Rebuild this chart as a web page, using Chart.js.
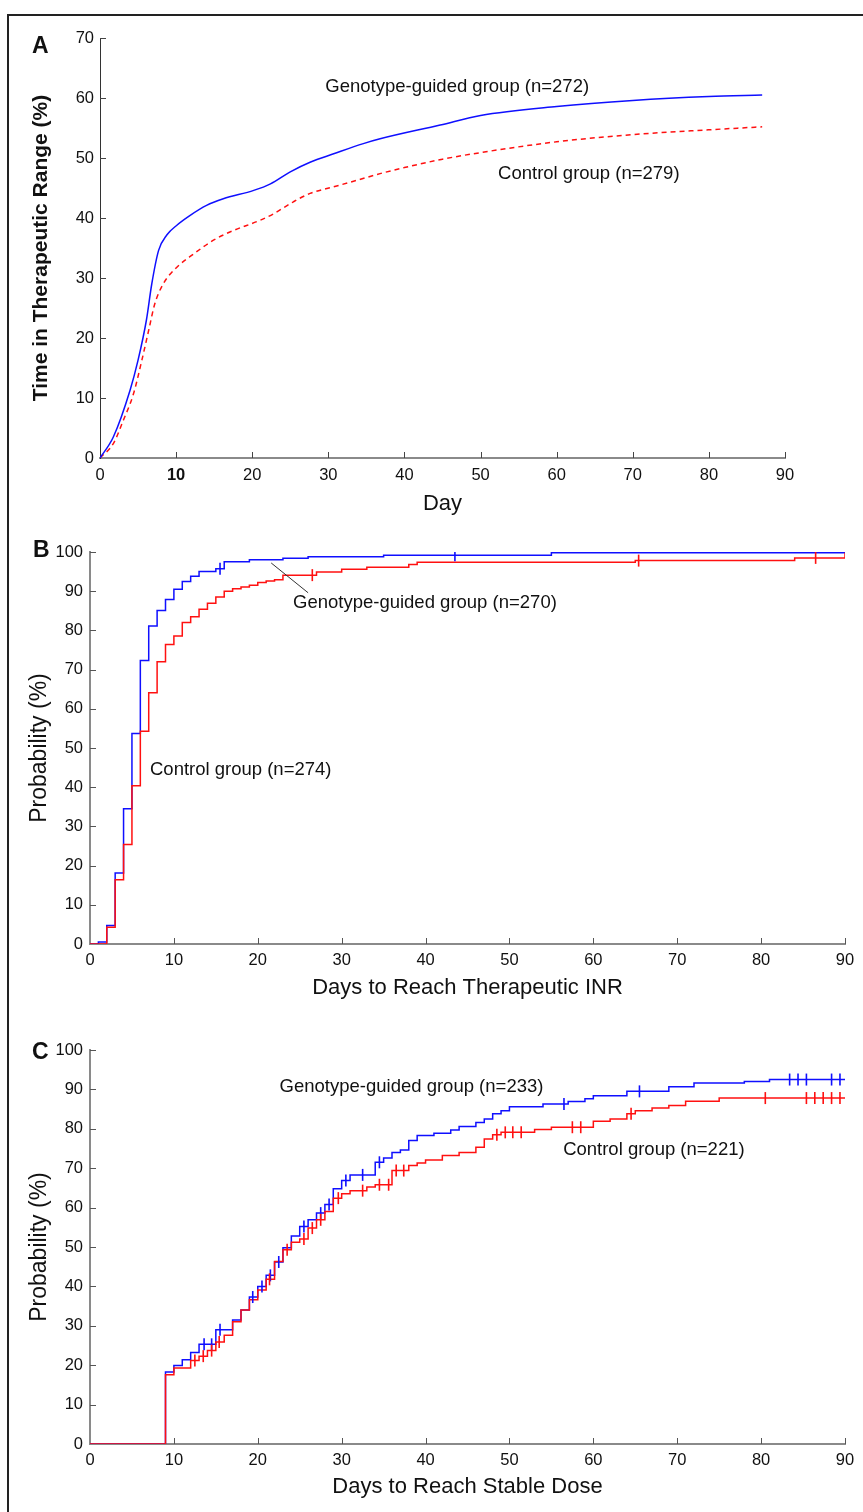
<!DOCTYPE html>
<html>
<head>
<meta charset="utf-8">
<script src="https://cdn.jsdelivr.net/npm/chart.js@4.4.1/dist/chart.umd.min.js"></script>
<style>
  body { margin: 0; background: #fff; width: 863px; height: 1512px; overflow: hidden; position: relative; font-family: 'Liberation Sans', Arial, sans-serif; }
  .frame { position: absolute; left: 7px; top: 14px; width: 900px; height: 1600px; border-left: 2px solid #222; border-top: 2px solid #222; }
  canvas { position: absolute; left: 0; }
  .panel { position: absolute; font-weight: bold; font-size: 23px; line-height: 23px; color: #111; }
</style>
</head>
<body>
<div class="frame"></div>
<canvas id="chartA" width="863" height="510" style="top:20px"></canvas>
<canvas id="chartB" width="863" height="480" style="top:530px"></canvas>
<canvas id="chartC" width="863" height="502" style="top:1010px"></canvas>
<div class="panel" style="left:32px;top:34px">A</div>
<div class="panel" style="left:33px;top:538px">B</div>
<div class="panel" style="left:32px;top:1040px">C</div>
<script>
// Panel A - time in therapeutic range (%) by day
const dayA_geno = [0, 1.75, 3.95, 5, 6.1, 6.8, 7.7, 8.8, 10.1, 11.8, 14, 16.2, 20.2, 22.4, 25, 27.6, 30.7, 34.6, 36.8, 44.7, 50, 60, 70, 80, 87];
const ttr_geno  = [0, 3.5, 11.3, 16.3, 23, 29, 34.6, 37.2, 38.8, 40.4, 42.1, 43.2, 44.6, 45.7, 47.7, 49.3, 50.7, 52.4, 53.2, 55.5, 57.1, 58.6, 59.6, 60.25, 60.5];
const dayA_ctrl = [0, 1.75, 3.07, 4.4, 5.5, 6.4, 7.2, 8.3, 10.1, 12.3, 14.9, 17.5, 21, 22.8, 25.4, 27.6, 30.7, 33.8, 36.8, 40, 45, 50, 60, 70, 80, 87];
const ttr_ctrl  = [0, 2.4, 6.3, 10.7, 16.3, 21.3, 25.7, 29, 31.8, 34, 36.3, 37.9, 39.6, 40.7, 42.7, 44.1, 45.2, 46.3, 47.4, 48.4, 49.8, 50.9, 52.7, 53.9, 54.7, 55.2];

// Panel B - days to reach therapeutic INR (cumulative probability %)
const dayB_geno  = [0, 1, 2, 3, 4, 5, 6, 7, 8, 9, 10, 11, 12, 13, 15, 16, 19, 23, 26, 35, 55, 90];
const probB_geno = [0, 0.5, 4.7, 18.1, 34.5, 53.7, 72.3, 81.1, 85.1, 87.9, 90.5, 92.5, 93.8, 95.0, 95.7, 97.5, 98.0, 98.4, 98.8, 99.2, 99.8, 99.8];
const dayB_ctrl  = [0, 2, 3, 4, 5, 6, 7, 8, 9, 10, 11, 12, 13, 14, 15, 16, 17, 18, 19, 20, 21, 22, 23, 27, 30, 33, 38, 39, 65, 84, 90];
const probB_ctrl = [0, 4.3, 16.4, 25.4, 40.4, 54.3, 64.1, 72.0, 76.4, 78.6, 82.0, 83.5, 85.4, 86.9, 88.5, 90.0, 90.6, 91.1, 91.5, 92.2, 92.6, 92.9, 94.1, 94.9, 95.6, 96.1, 96.8, 97.4, 97.8, 98.5, 99.8];
const censB_geno = [15.5, 43.5];
const censB_ctrl = [26.5, 65.4, 86.5];

// Panel C - days to reach stable dose (cumulative probability %)
const dayC_geno  = [0, 9, 10, 11, 12, 13, 15, 17, 18, 19, 20, 21, 22, 23, 24, 25, 26, 27, 28, 29, 30, 31, 34, 35, 36, 37, 38, 39, 41, 43, 44, 46, 47, 48, 49, 50, 54, 57, 59, 60, 64, 69, 72, 78, 81, 90];
const probC_geno = [0, 18.3, 19.9, 21.4, 23.2, 25.3, 29.0, 31.5, 34.0, 37.3, 40.0, 42.8, 46.2, 49.8, 52.8, 55.2, 56.9, 58.6, 60.8, 64.8, 66.9, 68.3, 71.5, 72.6, 74.0, 74.6, 77.0, 78.3, 78.9, 79.7, 80.6, 81.6, 82.5, 83.8, 84.6, 85.6, 86.3, 86.9, 87.6, 88.4, 89.5, 90.7, 91.6, 92.0, 92.5, 92.5];
const dayC_ctrl  = [0, 9, 10, 12, 13, 14, 15, 16, 17, 18, 19, 20, 21, 22, 23, 24, 25, 26, 27, 28, 29, 30, 31, 33, 34, 36, 38, 39, 40, 42, 44, 46, 47, 48, 49, 53, 55, 60, 62, 64, 65, 67, 69, 71, 75, 90];
const probC_ctrl = [0, 17.6, 19.3, 21.2, 22.3, 23.7, 25.9, 27.6, 31.0, 34.0, 36.6, 39.1, 41.8, 46.3, 49.3, 51.2, 52.0, 54.8, 56.9, 59.0, 62.4, 63.5, 64.3, 65.2, 65.8, 69.4, 70.7, 71.3, 72.1, 73.2, 74.0, 75.3, 77.4, 78.5, 79.1, 79.8, 80.4, 81.9, 82.5, 83.8, 84.6, 85.3, 85.9, 87.0, 87.8, 87.8];
const censC_geno = [13.6, 14.5, 15.5, 19.4, 20.5, 21.5, 22.5, 25.5, 27.5, 28.5, 30.5, 32.5, 34.5, 56.5, 65.5, 83.4, 84.4, 85.4, 88.4, 89.4];
const censC_ctrl = [12.5, 13.5, 14.5, 15.4, 21.4, 23.5, 25.5, 26.5, 27.5, 29.6, 32.5, 34.5, 35.6, 36.5, 37.4, 48.5, 49.5, 50.4, 51.4, 57.5, 58.5, 64.5, 80.5, 85.4, 86.4, 87.4, 88.4, 89.4];

// tick labels
const xTicks   = [0, 10, 20, 30, 40, 50, 60, 70, 80, 90];
const yTicksA  = [0, 10, 20, 30, 40, 50, 60, 70];
const yTicksBC = [0, 10, 20, 30, 40, 50, 60, 70, 80, 90, 100];

const BLUE = '#0f0fff';
const RED = '#ff1010';
const FONT = "'Liberation Sans', Arial, sans-serif";

function toXY(xs, ys) {
    return xs.map((x, i) => ({ x: x, y: ys[i] }));
}

// value of a step curve at time t (used to place the censor marks on the curve)
function stepAt(xs, ys, t) {
    let v = ys[0];
    for (let i = 0; i < xs.length; i++) {
        if (xs[i] <= t) v = ys[i];
    }
    return v;
}

function censorPts(times, xs, ys) {
    return times.map(t => ({ x: t, y: stepAt(xs, ys, t) }));
}

// small tick marks drawn on the inside of the axes
const insideTicks = {
    id: 'insideTicks',
    beforeDatasetsDraw(chart, args, opts) {
        const { ctx, chartArea: a, scales: { x, y } } = chart;
        ctx.save();
        ctx.strokeStyle = opts.color;
        ctx.lineWidth = 1;
        ctx.beginPath();
        x.ticks.forEach(t => {
            if (t.value === 0) return;
            const px = Math.round(x.getPixelForValue(t.value)) + 0.5;
            ctx.moveTo(px, a.bottom);
            ctx.lineTo(px, a.bottom - opts.len);
        });
        y.ticks.forEach(t => {
            if (t.value === 0) return;
            const py = Math.round(y.getPixelForValue(t.value)) + 0.5;
            ctx.moveTo(a.left, py);
            ctx.lineTo(a.left + opts.len, py);
        });
        ctx.stroke();
        ctx.restore();
    }
};

// text labels inside the plot, placed in data units
const notes = {
    id: 'notes',
    afterDatasetsDraw(chart, args, opts) {
        const { ctx, scales: { x, y } } = chart;
        ctx.save();
        ctx.font = '18.5px ' + FONT;
        ctx.fillStyle = '#111';
        ctx.textBaseline = 'middle';
        (opts.items || []).forEach(n => {
            ctx.fillText(n.text, x.getPixelForValue(n.x), y.getPixelForValue(n.y));
        });
        if (opts.leader) {
            const l = opts.leader;
            ctx.strokeStyle = '#333';
            ctx.lineWidth = 1;
            ctx.beginPath();
            ctx.moveTo(x.getPixelForValue(l.x1), y.getPixelForValue(l.y1));
            ctx.lineTo(x.getPixelForValue(l.x2), y.getPixelForValue(l.y2));
            ctx.stroke();
        }
        ctx.restore();
    }
};

function makeScales(s) {
    return {
        x: {
            type: 'linear', min: 0, max: 90,
            afterBuildTicks: sc => { sc.ticks = xTicks.map(v => ({ value: v })); },
            afterFit: sc => { sc.height = s.xHeight; },
            grid: { display: false, drawTicks: false },
            border: { display: true, color: s.xAxisColor, width: s.xAxisWidth },
            ticks: {
                padding: s.xTickPad, color: '#111',
                font: c => ({ family: FONT, size: 16.5, weight: (s.boldTen && c.tick && c.tick.value === 10) ? 'bold' : 'normal' })
            },
            title: { display: true, text: s.xTitle, color: '#111', font: { family: FONT, size: 22 }, padding: { top: 0, bottom: s.xTitlePad } }
        },
        y: {
            type: 'linear', min: 0, max: s.yMax,
            afterBuildTicks: sc => { sc.ticks = s.yTicks.map(v => ({ value: v })); },
            afterFit: sc => { sc.width = s.yWidth; },
            grid: { display: false, drawTicks: false },
            border: { display: true, color: s.yAxisColor, width: s.yAxisWidth },
            ticks: { padding: s.yTickPad, color: '#111', font: { family: FONT, size: 16.5 } },
            title: { display: true, text: s.yTitle, color: '#111', font: { family: FONT, size: s.yTitleSize, weight: s.yTitleWeight }, padding: { top: s.yTitlePad, bottom: 0 } }
        }
    };
}

const baseOpts = {
    responsive: false,
    animation: false,
    events: [],
    plugins: { legend: { display: false }, tooltip: { enabled: false } }
};

// ---------- Panel A ----------
new Chart(document.getElementById('chartA'), {
    type: 'line',
    data: {
        datasets: [
            { data: toXY(dayA_geno, ttr_geno), borderColor: BLUE, borderWidth: 1.5, pointRadius: 0, cubicInterpolationMode: 'monotone', fill: false },
            { data: toXY(dayA_ctrl, ttr_ctrl), borderColor: RED, borderWidth: 1.5, borderDash: [5, 4], pointRadius: 0, cubicInterpolationMode: 'monotone', fill: false }
        ]
    },
    options: Object.assign({}, baseOpts, {
        layout: { padding: { top: 18, left: 0, right: 78, bottom: 0 } },
        scales: makeScales({
            xHeight: 72, xAxisColor: '#8a8a8a', xAxisWidth: 2, xTickPad: 8, boldTen: true, xTitle: 'Day', xTitlePad: 13,
            yMax: 70, yTicks: yTicksA, yWidth: 100, yAxisColor: '#333', yAxisWidth: 1, yTickPad: 6,
            yTitle: 'Time in Therapeutic Range (%)', yTitleSize: 21, yTitleWeight: 'bold', yTitlePad: 29
        }),
        plugins: Object.assign({}, baseOpts.plugins, {
            insideTicks: { len: 6, color: '#444' },
            notes: {
                items: [
                    { text: 'Genotype-guided group (n=272)', x: 29.6, y: 61.8 },
                    { text: 'Control group (n=279)', x: 52.3, y: 47.3 }
                ]
            }
        })
    }),
    plugins: [insideTicks, notes]
});

// ---------- Panel B ----------
new Chart(document.getElementById('chartB'), {
    type: 'line',
    data: {
        datasets: [
            { data: toXY(dayB_ctrl, probB_ctrl), borderColor: RED, borderWidth: 1.5, stepped: 'before', pointRadius: 0, fill: false, order: 1 },
            { data: toXY(dayB_geno, probB_geno), borderColor: BLUE, borderWidth: 1.5, stepped: 'before', pointRadius: 0, fill: false, order: 2 },
            { data: censorPts(censB_ctrl, dayB_ctrl, probB_ctrl), showLine: false, pointStyle: 'line', rotation: 90, pointRadius: 6, borderColor: RED, borderWidth: 1.6, order: 0 },
            { data: censorPts(censB_geno, dayB_geno, probB_geno), showLine: false, pointStyle: 'line', rotation: 90, pointRadius: 6, borderColor: BLUE, borderWidth: 1.6, order: 0 }
        ]
    },
    options: Object.assign({}, baseOpts, {
        layout: { padding: { top: 22, left: 0, right: 18, bottom: 0 } },
        scales: makeScales({
            xHeight: 66, xAxisColor: '#8a8a8a', xAxisWidth: 2, xTickPad: 7, boldTen: false, xTitle: 'Days to Reach Therapeutic INR', xTitlePad: 9,
            yMax: 100, yTicks: yTicksBC, yWidth: 90, yAxisColor: '#8a8a8a', yAxisWidth: 2, yTickPad: 7,
            yTitle: 'Probability (%)', yTitleSize: 23, yTitleWeight: 'normal', yTitlePad: 26
        }),
        plugins: Object.assign({}, baseOpts.plugins, {
            insideTicks: { len: 6, color: '#555' },
            notes: {
                items: [
                    { text: 'Genotype-guided group (n=270)', x: 24.2, y: 87 },
                    { text: 'Control group (n=274)', x: 7.15, y: 44.4 }
                ],
                leader: { x1: 21.6, y1: 97.2, x2: 26.0, y2: 89.6 }
            }
        })
    }),
    plugins: [insideTicks, notes]
});

// ---------- Panel C ----------
new Chart(document.getElementById('chartC'), {
    type: 'line',
    data: {
        datasets: [
            { data: toXY(dayC_ctrl, probC_ctrl), borderColor: RED, borderWidth: 1.5, stepped: 'before', pointRadius: 0, fill: false, order: 1 },
            { data: toXY(dayC_geno, probC_geno), borderColor: BLUE, borderWidth: 1.5, stepped: 'before', pointRadius: 0, fill: false, order: 2 },
            { data: censorPts(censC_ctrl, dayC_ctrl, probC_ctrl), showLine: false, pointStyle: 'line', rotation: 90, pointRadius: 6, borderColor: RED, borderWidth: 1.6, order: 0 },
            { data: censorPts(censC_geno, dayC_geno, probC_geno), showLine: false, pointStyle: 'line', rotation: 90, pointRadius: 6, borderColor: BLUE, borderWidth: 1.6, order: 0 }
        ]
    },
    options: Object.assign({}, baseOpts, {
        layout: { padding: { top: 40, left: 0, right: 18, bottom: 0 } },
        scales: makeScales({
            xHeight: 68, xAxisColor: '#8a8a8a', xAxisWidth: 2, xTickPad: 7, boldTen: false, xTitle: 'Days to Reach Stable Dose', xTitlePad: 12,
            yMax: 100, yTicks: yTicksBC, yWidth: 90, yAxisColor: '#8a8a8a', yAxisWidth: 2, yTickPad: 7,
            yTitle: 'Probability (%)', yTitleSize: 23, yTitleWeight: 'normal', yTitlePad: 26
        }),
        plugins: Object.assign({}, baseOpts.plugins, {
            insideTicks: { len: 6, color: '#555' },
            notes: {
                items: [
                    { text: 'Genotype-guided group (n=233)', x: 22.6, y: 90.7 },
                    { text: 'Control group (n=221)', x: 56.4, y: 74.7 }
                ]
            }
        })
    }),
    plugins: [insideTicks, notes]
});
</script>
</body>
</html>
